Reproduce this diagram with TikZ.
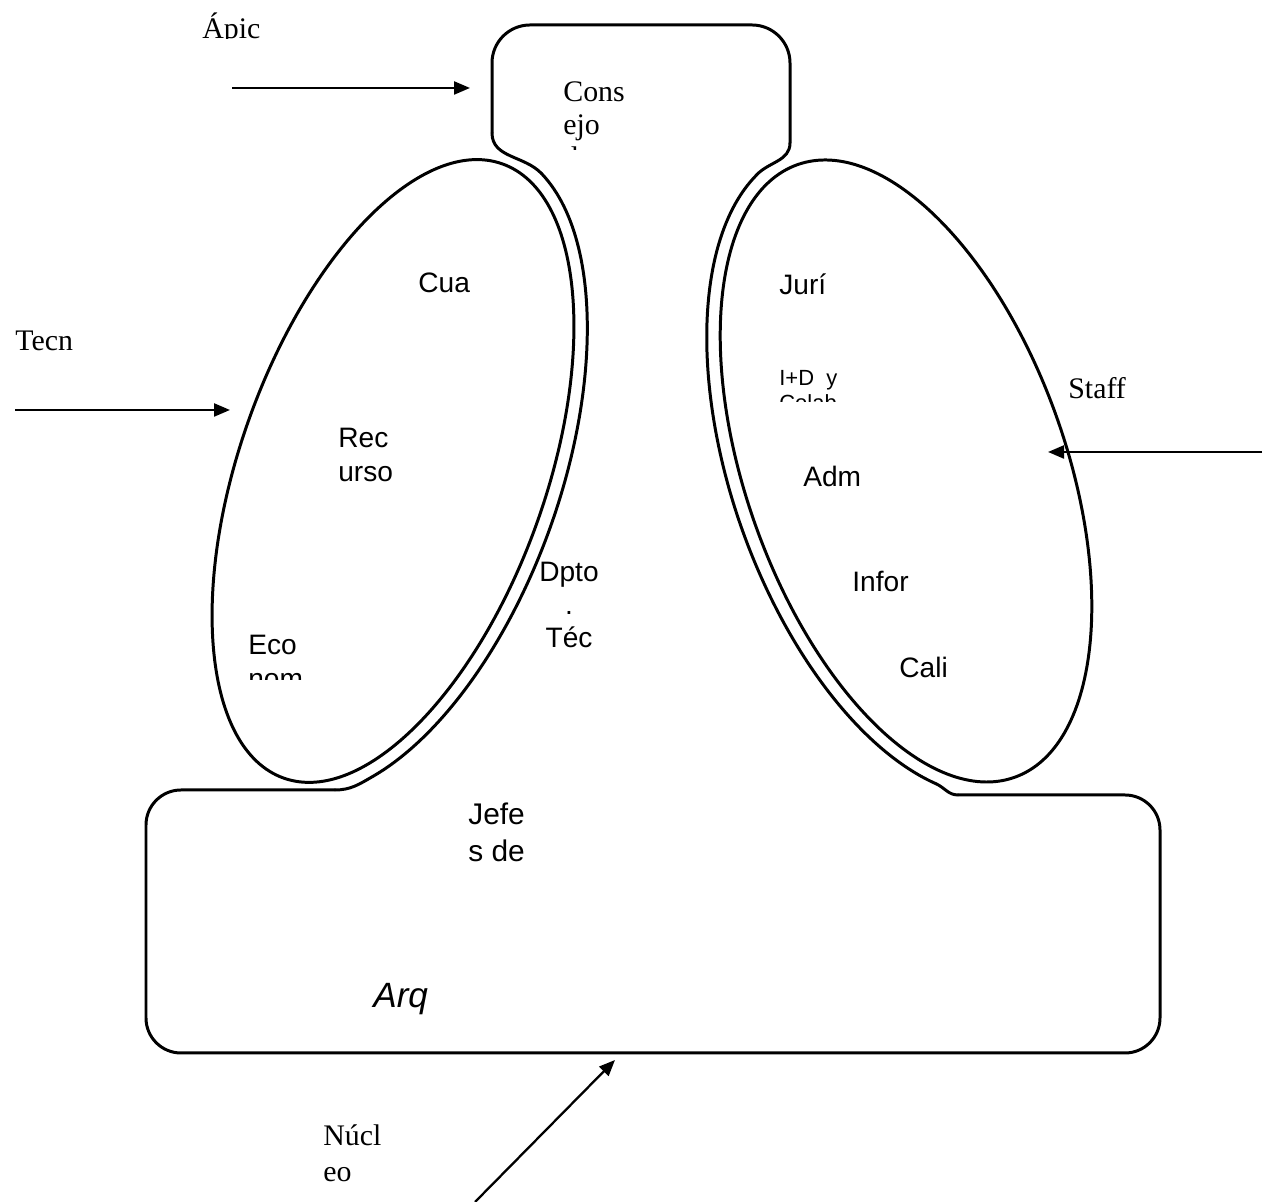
\documentclass[tikz,border=0pt]{standalone}
\usepackage{fontspec}
\setmainfont{Liberation Serif}
\setsansfont{Liberation Sans}
\usetikzlibrary{arrows.meta}

\tikzset{
  OutlineStyle/.style={line width=1.7pt,line join=round,line cap=round},
  ArrowStyle/.style={line width=1.3pt,-{Triangle[length=0.32cm,width=0.26cm]}},
  RomanText/.style={font=\fontsize{17}{19}\selectfont,anchor=base west,inner sep=0pt},
  SansText/.style={font=\sffamily\fontsize{16}{19}\selectfont,anchor=base west,inner sep=0pt},
  SmallSansText/.style={font=\sffamily\fontsize{12.5}{14}\selectfont,anchor=base west,inner sep=0pt},
}

\begin{document}
\begin{tikzpicture}[x=0.02cm,y=0.02cm]
            \useasboundingbox (0,0) rectangle (1274,1202);

            % tecnoestructura
            \begin{scope}[shift={(393,731)},rotate=70.4]
               \draw[OutlineStyle] (0,0) ellipse [x radius=326,y radius=153];
               \coordinate (lbA) at (-14:340 and 167);
               \coordinate (lbB) at (-150:340 and 167);
               \draw[OutlineStyle] (lbA) arc [start angle=-14,end angle=-150,x radius=340,y radius=167];
            \end{scope}

            % staff de apoyo
            \begin{scope}[shift={(906,731)},rotate=109.5]
               \draw[OutlineStyle] (0,0) ellipse [x radius=325,y radius=160];
               \coordinate (rbA) at (14:339 and 174);
               \coordinate (rbB) at (154:339 and 174);
               \draw[OutlineStyle] (rbA) arc [start angle=14,end angle=154,x radius=339,y radius=174];
            \end{scope}

            % apice
            \coordinate (apL) at (492,1069);
            \coordinate (apR) at (790,1059);
            \draw[OutlineStyle,rounded corners=0.76cm] (apL) -- (492,1177) -- (790,1177) -- (apR);
            \draw[OutlineStyle] (apL) to[out=-90,in=133] (lbA);
            \draw[OutlineStyle] (apR) to[out=-90,in=47] (rbA);

            % nucleo de operaciones
            \coordinate (nuL) at (335,412);
            \coordinate (nuR) at (958,407);
            \draw[OutlineStyle,rounded corners=0.7cm] (nuL) -- (146,412) -- (146,149) -- (1160,149) -- (1160,407) -- (nuR);
            \draw[OutlineStyle] (lbB) to[out=210,in=0] (nuL);
            \draw[OutlineStyle] (rbB) to[out=-24,in=180] (nuR);

            % flechas
            \coordinate (apicT) at (232,1114);
            \coordinate (apicH) at (470,1114);
            \coordinate (tecnT) at (15,792);
            \coordinate (tecnH) at (230,792);
            \coordinate (staffT) at (1262,750);
            \coordinate (staffH) at (1048,750);
            \coordinate (nucT) at (475,0);
            \coordinate (nucH) at (615,142);
            \draw[ArrowStyle] (apicT) -- (apicH);
            \draw[ArrowStyle] (tecnT) -- (tecnH);
            \draw[ArrowStyle] (staffT) -- (staffH);
            \draw[ArrowStyle] (nucT) -- (nucH);

            % rotulos
            \begin{scope}
               \clip (150,1163) rectangle (400,1202);
               \node[RomanText] (apic) at (202,1163) {Ápic};
            \end{scope}
            \node[RomanText] (cons1) at (563,1100) {Cons};
            \node[RomanText] (cons2) at (563,1067) {ejo};
            \begin{scope}
               \clip (540,1052) rectangle (640,1062);
               \node[RomanText] (cons3) at (563,1034) {d};
            \end{scope}
            \node[RomanText] (tecn) at (15,851) {Tecn};
            \node[RomanText] (staff) at (1068,803) {Staff};
            \node[RomanText] (nucl1) at (323,56) {Núcl};
            \node[RomanText] (nucl2) at (323,20) {eo};

            \node[SansText] (cua) at (418,909) {Cua};
            \node[SansText] (rec1) at (338,754) {Rec};
            \node[SansText] (rec2) at (338,720) {urso};
            \node[SansText] (eco1) at (248,547) {Eco};
            \begin{scope}
               \clip (230,522) rectangle (360,540);
               \node[SansText] (eco2) at (248,513) {nom};
            \end{scope}
            \node[SansText,anchor=base] (dpto1) at (569,620) {Dpto};
            \node[SansText,anchor=base] (dpto2) at (569,587) {.};
            \node[SansText,anchor=base] (dpto3) at (569,554) {Téc};

            \node[SansText] (juri) at (779,907) {Jurí};
            \node[SmallSansText] (imasd1) at (779,816) {I+D\ \ y};
            \begin{scope}
               \clip (760,800) rectangle (900,815);
               \node[SmallSansText] (imasd2) at (779,791) {Colab};
            \end{scope}
            \node[SansText] (adm) at (803,715) {Adm};
            \node[SansText] (infor) at (852,610) {Infor};
            \node[SansText] (cali) at (899,524) {Cali};

            \node[SansText,font=\sffamily\fontsize{17}{20}\selectfont] (jefe1) at (468,377) {Jefe};
            \node[SansText,font=\sffamily\fontsize{17}{20}\selectfont] (jefe2) at (468,340) {s de};
            \node[SansText,font=\sffamily\itshape\fontsize{20}{24}\selectfont] (arq) at (373,194) {Arq};
\end{tikzpicture}
\end{document}
